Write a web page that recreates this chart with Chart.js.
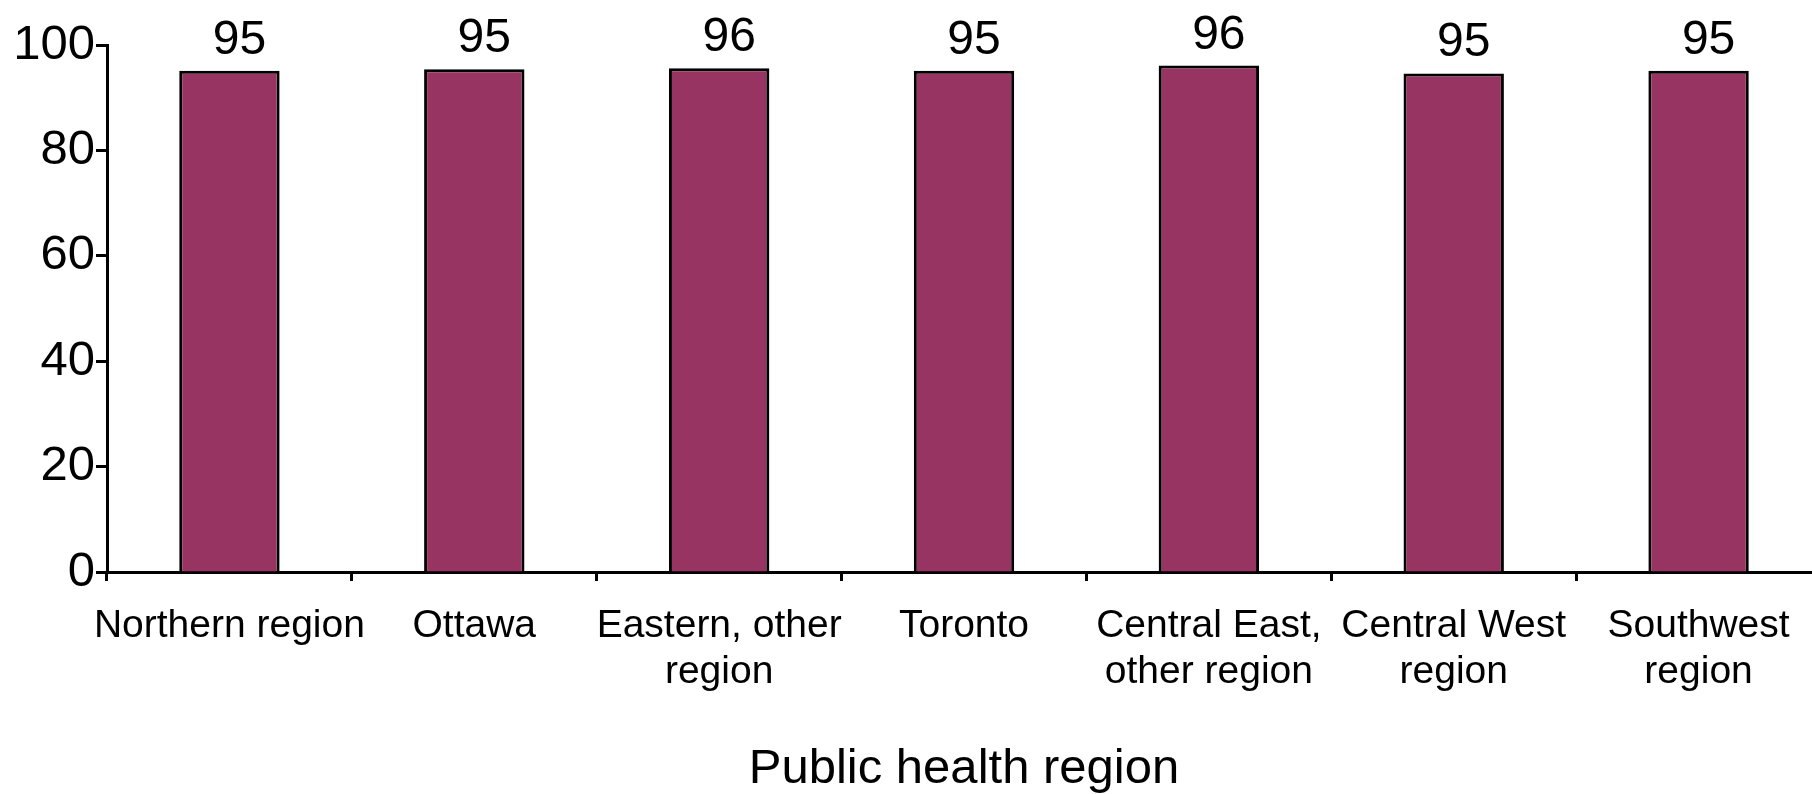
<!DOCTYPE html>
<html>
<head>
<meta charset="utf-8">
<script src="https://cdn.jsdelivr.net/npm/chart.js@4"></script>
<style>
  html, body { margin: 0; padding: 0; background: #ffffff; overflow: hidden; width: 1812px; height: 794px; }
  canvas { display: block; }
</style>
</head>
<body>
<canvas id="c" width="1821" height="794" style="width:1821px;height:794px;"></canvas>
<script>
const categories = [
  ["Northern region"],
  ["Ottawa"],
  ["Eastern, other", "region"],
  ["Toronto"],
  ["Central East,", "other region"],
  ["Central West", "region"],
  ["Southwest", "region"]
];
const values = [95.1, 95.4, 95.6, 95.1, 96.1, 94.6, 95.1];
const valueLabels = ["95", "95", "96", "95", "96", "95", "95"];
const yTickValues = [0, 20, 40, 60, 80, 100];
const xAxisTitle = "Public health region";

const FONT = "'Liberation Sans', Arial, Helvetica, sans-serif";

const valueLabelPlugin = {
  id: 'valueLabels',
  afterDatasetsDraw(chart) {
    const ctx = chart.ctx;
    const meta = chart.getDatasetMeta(0);
    ctx.save();
    ctx.font = "48px " + FONT;
    ctx.fillStyle = "#000000";
    ctx.textAlign = "center";
    ctx.textBaseline = "alphabetic";
    meta.data.forEach((bar, i) => {
      ctx.fillText(valueLabels[i], bar.x + 10, bar.y - 17);
    });
    ctx.restore();
  }
};

new Chart(document.getElementById('c'), {
  type: 'bar',
  data: {
    labels: categories,
    datasets: [{
      data: values,
      backgroundColor: '#983462',
      borderColor: '#000000',
      borderWidth: 3,
      borderSkipped: 'bottom',
      barPercentage: 0.41,
      categoryPercentage: 1.0
    }]
  },
  options: {
    responsive: false,
    animation: false,
    devicePixelRatio: 1,
    layout: { padding: { top: 45, left: 0, right: 0, bottom: 0 } },
    plugins: {
      legend: { display: false },
      tooltip: { enabled: false },
      title: { display: false }
    },
    scales: {
      x: {
        grid: {
          offset: true,
          drawOnChartArea: false,
          drawTicks: true,
          tickLength: 9,
          tickWidth: 3,
          tickColor: '#000000'
        },
        border: { display: true, color: '#000000', width: 3 },
        ticks: {
          color: '#000000',
          font: { family: FONT, size: 39, lineHeight: 1.18 },
          maxRotation: 0,
          minRotation: 0,
          autoSkip: false,
          padding: 22
        },
        title: {
          display: true,
          text: xAxisTitle,
          color: '#000000',
          font: { family: FONT, size: 49, lineHeight: 1.0 },
          padding: { top: 0, bottom: 0 }
        },
        afterFit(scale) { scale.height = 222; }
      },
      y: {
        min: 0,
        max: 100,
        afterBuildTicks(scale) { scale.ticks = yTickValues.map(v => ({ value: v })); },
        grid: {
          drawOnChartArea: false,
          drawTicks: true,
          tickLength: 11,
          tickWidth: 3,
          tickColor: '#000000'
        },
        border: { display: true, color: '#000000', width: 3 },
        ticks: {
          color: '#000000',
          font: { family: FONT, size: 49 },
          padding: 1
        },
        afterFit(scale) { scale.width = 107; }
      }
    }
  },
  plugins: [valueLabelPlugin]
});
</script>
</body>
</html>
